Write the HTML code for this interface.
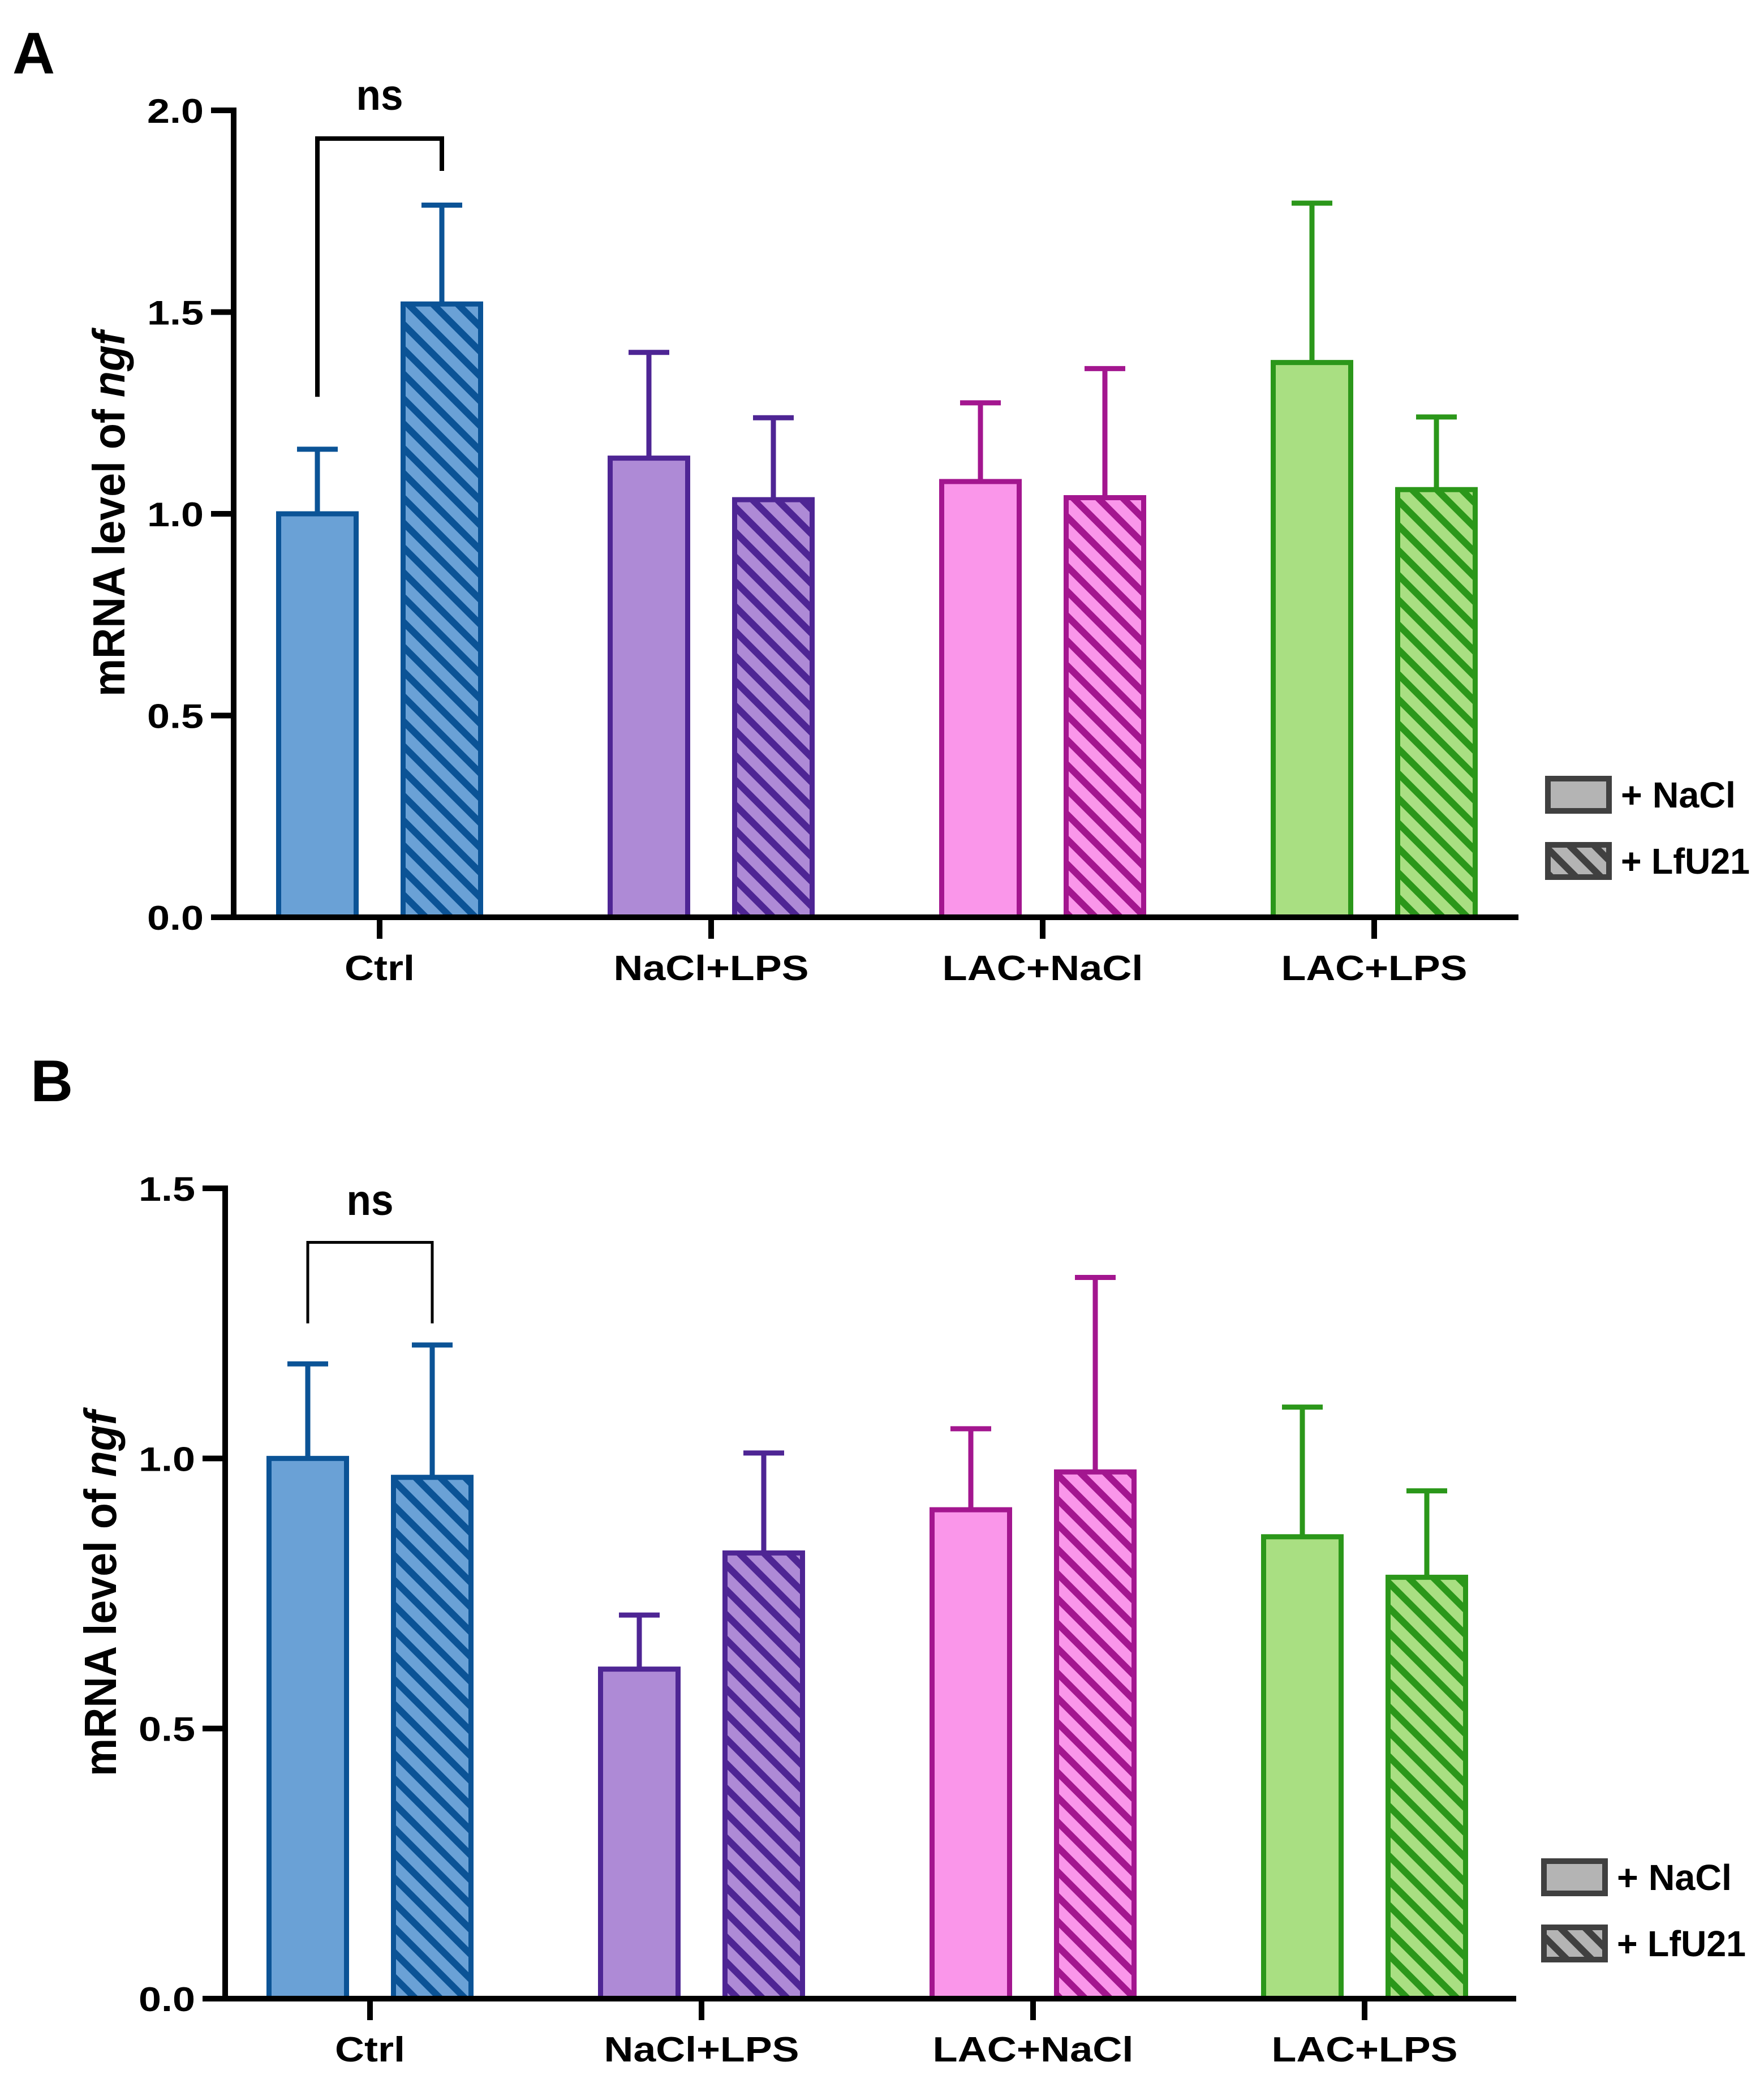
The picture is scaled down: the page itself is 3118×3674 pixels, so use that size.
<!DOCTYPE html>
<html><head><meta charset="utf-8"><style>
html,body{margin:0;padding:0;background:#fff;}
svg{display:block;}
text{font-family:"Liberation Sans",Arial,sans-serif;font-weight:bold;fill:#000;}
</style></head>
<body>
<svg id="fig" width="3118" height="3674" viewBox="0 0 3118 3674" xmlns="http://www.w3.org/2000/svg">
<defs>
  <pattern id="h-blue" patternUnits="userSpaceOnUse" width="31" height="31" patternTransform="rotate(-45)"><rect width="31" height="31" fill="#6aa1d6"/><rect x="0" y="0" width="12" height="31" fill="#0b5396"/></pattern>
  <pattern id="h-purple" patternUnits="userSpaceOnUse" width="31" height="31" patternTransform="rotate(-45)"><rect width="31" height="31" fill="#ae8ad6"/><rect x="0" y="0" width="12" height="31" fill="#4e2594"/></pattern>
  <pattern id="h-pink" patternUnits="userSpaceOnUse" width="31" height="31" patternTransform="rotate(-45)"><rect width="31" height="31" fill="#fa96ea"/><rect x="0" y="0" width="12" height="31" fill="#a3168f"/></pattern>
  <pattern id="h-green" patternUnits="userSpaceOnUse" width="31" height="31" patternTransform="rotate(-45)"><rect width="31" height="31" fill="#a9df82"/><rect x="0" y="0" width="12" height="31" fill="#2b971a"/></pattern>
  <pattern id="h-gray" patternUnits="userSpaceOnUse" width="31" height="31" patternTransform="rotate(-45)"><rect width="31" height="31" fill="#b4b4b4"/><rect x="0" y="0" width="12" height="31" fill="#404040"/></pattern>
</defs>
<g id="root"></g>
</svg>
<script>
const categories = ["Ctrl", "NaCl+LPS", "LAC+NaCl", "LAC+LPS"];
const seriesNames = ["+ NaCl", "+ LfU21"];
const aNaCl = [1.0, 1.138, 1.08, 1.375];
const aNaClErr = [1.16, 1.40, 1.275, 1.77];
const aLfU = [1.52, 1.035, 1.04, 1.06];
const aLfUErr = [1.765, 1.238, 1.36, 1.24];
const aTicks = [0.0, 0.5, 1.0, 1.5, 2.0];
const aTickLabels = ["0.0", "0.5", "1.0", "1.5", "2.0"];
const bNaCl = [1.0, 0.61, 0.905, 0.855];
const bNaClErr = [1.175, 0.71, 1.055, 1.095];
const bLfU = [0.965, 0.825, 0.975, 0.78];
const bLfUErr = [1.21, 1.01, 1.335, 0.94];
const bTicks = [0.0, 0.5, 1.0, 1.5];
const bTickLabels = ["0.0", "0.5", "1.0", "1.5"];

const NS = "http://www.w3.org/2000/svg";
const root = document.getElementById("root");
const fills = ["#6aa1d6", "#ae8ad6", "#fa96ea", "#a9df82"];
const strokes = ["#0b5396", "#4e2594", "#a3168f", "#2b971a"];
const hatch = ["h-blue", "h-purple", "h-pink", "h-green"];
function mk(tag, attrs, parent) {
  const e = document.createElementNS(NS, tag);
  for (const k in attrs) e.setAttribute(k, attrs[k]);
  (parent || root).appendChild(e);
  return e;
}

function panel(cfg) {
  const g = mk("g", {});
  
  
  const y = v => cfg.y0 - (v - 0) * (cfg.y0 - cfg.yTop) / (cfg.ymax);
  const x = i => cfg.x0 + i * cfg.gap;
  const pl = mk("text", {x: cfg.letterX, y: cfg.letterY, "font-size": 104}, g);
  pl.textContent = cfg.letter;
  
  
  const sets = [[cfg.s1, cfg.e1, -110, false], [cfg.s2, cfg.e2, 110, true]];
  categories.forEach((c, i) => {
    sets.forEach(([vals, errs, off, hatched], si) => {
      const cx = x(i) + off;
      const top = y(vals[i]);
      const el = mk("line", {x1: cx, x2: cx, y1: y(errs[i]), y2: top, stroke: strokes[i], "stroke-width": 9}, g);
      
      
      const cap = mk("line", {x1: cx - 36, x2: cx + 36, y1: y(errs[i]), y2: y(errs[i]), stroke: strokes[i], "stroke-width": 9}, g);
      
      
      const r = mk("rect", {x: cx - 68.5, y: top, width: 137, height: cfg.y0 - top,
        fill: hatched ? "url(#" + hatch[i] + ")" : fills[i], stroke: strokes[i], "stroke-width": 9}, g);
      
      
    });
  });
  const ya = mk("line", {x1: cfg.axX, x2: cfg.axX, y1: cfg.yTop - 5, y2: cfg.y0 + 5, stroke: "#000", "stroke-width": 10}, g);
  
  
  const xa = mk("line", {x1: cfg.axX - 40, x2: cfg.xEnd, y1: cfg.y0, y2: cfg.y0, stroke: "#000", "stroke-width": 10}, g);
  
  
  cfg.ticks.forEach((t, k) => {
    const tl = mk("line", {x1: cfg.axX - 40, x2: cfg.axX, y1: y(t), y2: y(t), stroke: "#000", "stroke-width": 10}, g);
    
    
    const tx = mk("text", {x: cfg.axX - 53, y: y(t) + 22, "font-size": 60, "text-anchor": "end", textLength: 100, lengthAdjust: "spacingAndGlyphs"}, g);
    tx.textContent = cfg.tickLabels[k];
    
    
  });
  const catW = [124, 345, 355, 329];
  categories.forEach((c, i) => {
    const tk = mk("line", {x1: x(i), x2: x(i), y1: cfg.y0, y2: cfg.y0 + 38, stroke: "#000", "stroke-width": 10}, g);
    
    
    const t = mk("text", {x: x(i), y: cfg.labelY, "font-size": 62, "text-anchor": "middle", textLength: catW[i], lengthAdjust: "spacingAndGlyphs"}, g);
    t.textContent = c;
    
    
  });
  const yt = mk("text", {x: 0, y: 0, "font-size": 80, "text-anchor": "middle", textLength: 646, lengthAdjust: "spacingAndGlyphs",
    transform: "translate(" + cfg.titleX + "," + ((cfg.y0 + cfg.yTop) / 2) + ") rotate(-90)"}, g);
  yt.innerHTML = 'mRNA level of <tspan font-style="italic">ngf</tspan>';
  
  
  const bx1 = x(0) - 110, bx2 = x(0) + 110;
  const br = mk("polyline", {points: bx1 + "," + y(cfg.br[0]) + " " + bx1 + "," + y(cfg.br[2]) + " " + bx2 + "," + y(cfg.br[2]) + " " + bx2 + "," + y(cfg.br[1]),
    fill: "none", stroke: "#000", "stroke-width": cfg.brW}, g);
  
  
  const ns = mk("text", {x: x(0), y: cfg.nsY, "font-size": 76, "text-anchor": "middle", textLength: 83, lengthAdjust: "spacingAndGlyphs"}, g);
  ns.textContent = "ns";
  
  
  seriesNames.forEach((s, k) => {
    const ly = cfg.legY + k * 117;
    const lr = mk("rect", {x: cfg.legX + 5, y: ly + 5, width: 108, height: 57, fill: k ? "url(#h-gray)" : "#b4b4b4", stroke: "#404040", "stroke-width": 10}, g);
    
    
    const lt = mk("text", {x: cfg.legX + 134, y: ly + 56, "font-size": 64, textLength: k ? 228 : 203, lengthAdjust: "spacingAndGlyphs"}, g);
    lt.textContent = s;
    
    
  });
}

panel({name: "panel-a", letter: "A", letterX: 22, letterY: 130, s1: aNaCl, e1: aNaClErr, s2: aLfU, e2: aLfUErr,
  ticks: aTicks, tickLabels: aTickLabels, ymax: 2.0, y0: 1621, yTop: 195, axX: 413, xEnd: 2684, x0: 671, gap: 586,
  labelY: 1732, titleX: 220, br: [1.29, 1.85, 1.93], brW: 8, nsY: 194, legX: 2731, legY: 1371});
panel({name: "panel-b", letter: "B", letterX: 54, letterY: 1946, s1: bNaCl, e1: bNaClErr, s2: bLfU, e2: bLfUErr,
  ticks: bTicks, tickLabels: bTickLabels, ymax: 1.5, y0: 3532, yTop: 2100, axX: 398, xEnd: 2680, x0: 654, gap: 586,
  labelY: 3643, titleX: 205, br: [1.25, 1.25, 1.40], brW: 5, nsY: 2147, legX: 2724, legY: 3284});
</script>
</body></html>
